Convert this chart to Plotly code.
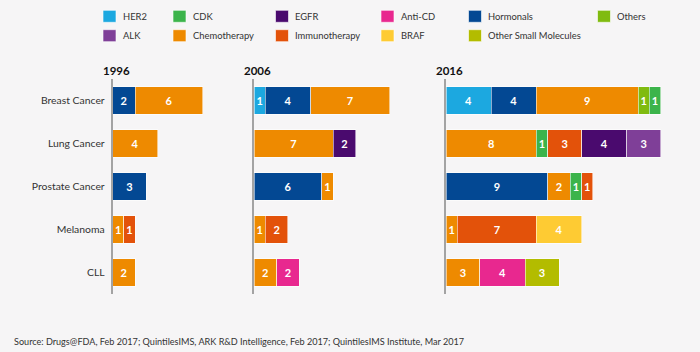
import plotly.graph_objects as go

# ---------------- data ----------------
CANCERS = ["Breast Cancer", "Lung Cancer", "Prostate Cancer", "Melanoma", "CLL"]
YEARS = ["1996", "2006", "2016"]

# stacking order of the drug classes (left to right inside a bar)
STACK_ORDER = ["HER2", "Hormonals", "Chemotherapy", "Others", "CDK", "Immunotherapy",
               "EGFR", "ALK", "BRAF", "Anti-CD", "Other Small Molecules"]

# number of approved drugs per class, per cancer (order of CANCERS)
Y1996 = {
    "Hormonals":     [2, None, 3, None, None],
    "Chemotherapy":  [6, 4, None, 1, 2],
    "Immunotherapy": [None, None, None, 1, None],
}
Y2006 = {
    "HER2":          [1, None, None, None, None],
    "Hormonals":     [4, None, 6, None, None],
    "Chemotherapy":  [7, 7, 1, 1, 2],
    "Immunotherapy": [None, None, None, 2, None],
    "EGFR":          [None, 2, None, None, None],
    "Anti-CD":       [None, None, None, None, 2],
}
Y2016 = {
    "HER2":                  [4, None, None, None, None],
    "Hormonals":             [4, None, 9, None, None],
    "Chemotherapy":          [9, 8, 2, 1, 3],
    "Others":                [1, None, None, None, None],
    "CDK":                   [1, 1, 1, None, None],
    "Immunotherapy":         [None, 3, 1, 7, None],
    "EGFR":                  [None, 4, None, None, None],
    "ALK":                   [None, 3, None, None, None],
    "BRAF":                  [None, None, None, 4, None],
    "Anti-CD":               [None, None, None, None, 4],
    "Other Small Molecules": [None, None, None, None, 3],
}
YEAR_DATA = [Y1996, Y2006, Y2016]

LEGEND_ROW1 = ["HER2", "CDK", "EGFR", "Anti-CD", "Hormonals", "Others"]
LEGEND_ROW2 = ["ALK", "Chemotherapy", "Immunotherapy", "BRAF", "Other Small Molecules"]

SOURCE = ("Source: Drugs@FDA, Feb 2017; QuintilesIMS, ARK R&D Intelligence, Feb 2017; "
          "QuintilesIMS Institute, Mar 2017")

# ---------------- styles ----------------
COLORS = {
    "HER2": "#1ca8e0",
    "CDK": "#3cb44b",
    "EGFR": "#4a0a6e",
    "Anti-CD": "#e8288f",
    "Hormonals": "#034893",
    "Others": "#80bb10",
    "ALK": "#7f3f98",
    "Chemotherapy": "#ee8a00",
    "Immunotherapy": "#e3520a",
    "BRAF": "#fecb33",
    "Other Small Molecules": "#b3bc00",
}
BG = "#f6f5f6"
FONT = "Lato"
W, H = 700, 352

X_RANGES = [12, 16, 22]
X_START_PX = [112.5, 254, 446]
PX_PER_UNIT = 11.3
Y_TOP_PX, Y_BOT_PX = 79, 294

fig = go.Figure()

for i, data in enumerate(YEAR_DATA):
    xa = "x" if i == 0 else f"x{i+1}"
    ya = "y" if i == 0 else f"y{i+1}"
    for cls in STACK_ORDER:
        if cls not in data:
            continue
        fig.add_trace(go.Bar(
            y=CANCERS, x=data[cls], orientation="h", name=cls,
            xaxis=xa, yaxis=ya, width=0.65,
            marker=dict(color=COLORS[cls], line=dict(color="rgba(255,255,255,0.55)", width=1)),
            texttemplate="%{x}", textposition="inside", insidetextanchor="middle",
            constraintext="none", cliponaxis=False,
            textfont=dict(color="white", size=11, family=FONT, weight="bold"),
            showlegend=False, hoverinfo="x+name",
        ))

ydom = [1 - Y_BOT_PX / H, 1 - Y_TOP_PX / H]
layout = dict(
    width=W, height=H, paper_bgcolor=BG, plot_bgcolor=BG,
    margin=dict(l=0, r=0, t=0, b=0), barmode="stack", showlegend=False,
    font=dict(family=FONT, color="#333333"),
)
for i in range(3):
    sfx = "" if i == 0 else str(i + 1)
    x0 = X_START_PX[i] / W
    x1 = (X_START_PX[i] + X_RANGES[i] * PX_PER_UNIT) / W
    layout["xaxis" + sfx] = dict(domain=[x0, x1], range=[0, X_RANGES[i]], visible=False,
                                 anchor="y" + sfx, fixedrange=True)
    layout["yaxis" + sfx] = dict(
        domain=ydom, anchor="x" + sfx, type="category", categoryarray=CANCERS,
        range=[4.5, -0.5], showline=True, linecolor="#a3a3a3", linewidth=1.5,
        showgrid=False, zeroline=False, showticklabels=(i == 0),
        ticks="outside", ticklen=4, tickcolor="rgba(0,0,0,0)",
        tickfont=dict(size=10.4, family=FONT, color="#333333"), fixedrange=True,
    )
fig.update_layout(**layout)

# year titles
for i, yr in enumerate(YEARS):
    sfx = "" if i == 0 else str(i + 1)
    fig.add_annotation(text=f"<b>{yr}</b>", xref=f"x{sfx} domain", x=0, xshift=-12,
                       xanchor="left", yref="paper", y=1 - 71 / H, yanchor="middle",
                       showarrow=False, font=dict(size=11.5, family=FONT, color="#111111"))

# legend (two rows, aligned columns)
COL_PX = [103, 173, 275.5, 381, 468.5, 597.5]
for row, (names, ypx) in enumerate([(LEGEND_ROW1, 16.3), (LEGEND_ROW2, 35.7)]):
    for j, name in enumerate(names):
        xl = COL_PX[j]
        fig.add_shape(type="rect", xref="paper", yref="paper",
                      x0=xl / W, x1=(xl + 13) / W, y0=1 - (ypx + 6) / H, y1=1 - (ypx - 6) / H,
                      fillcolor=COLORS[name], line=dict(color="rgba(255,255,255,0.6)", width=1))
        fig.add_annotation(text=name, xref="paper", yref="paper", x=(xl + 17.7) / W,
                           y=1 - ypx / H, xanchor="left", yanchor="middle", showarrow=False,
                           font=dict(size=9.4, family=FONT, color="#333333"))

fig.add_annotation(text=SOURCE, xref="paper", yref="paper", x=12 / W, y=1 - 341.5 / H,
                   xanchor="left", yanchor="middle", showarrow=False,
                   font=dict(size=9.1, family=FONT, color="#333333"))

fig.write_html("out.html")
